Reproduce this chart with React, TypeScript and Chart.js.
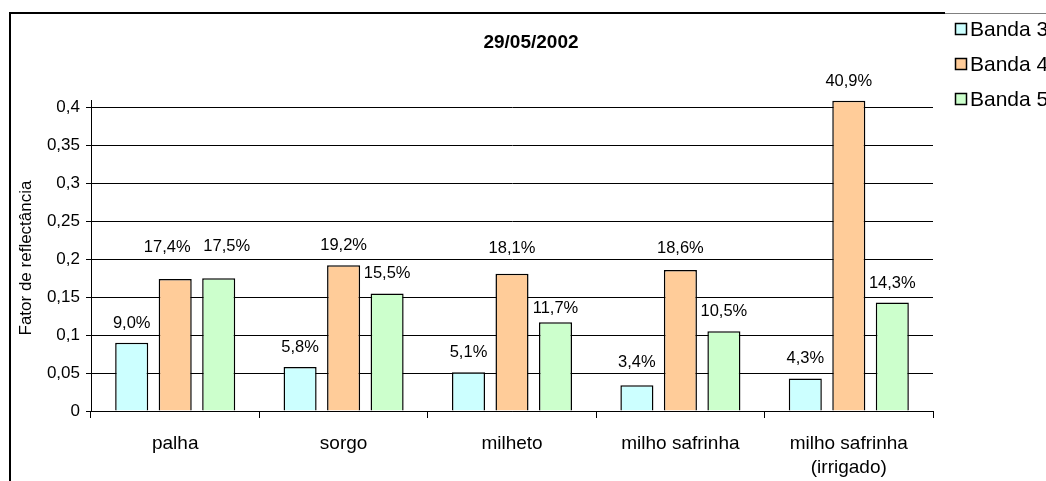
import { useEffect, useRef } from "react";
import { Chart, registerables } from "chart.js";

Chart.register(...registerables);

const categories: string[][] = [["palha"], ["sorgo"], ["milheto"], ["milho safrinha"], ["milho safrinha", "(irrigado)"]];
const seriesNames = ["Banda 3", "Banda 4", "Banda 5"];
const banda3 = [0.09, 0.058, 0.051, 0.034, 0.043];
const banda4 = [0.174, 0.192, 0.181, 0.186, 0.409];
const banda5 = [0.175, 0.155, 0.117, 0.105, 0.143];
const yTickValues = [0, 0.05, 0.1, 0.15, 0.2, 0.25, 0.3, 0.35, 0.4];
const yTickLabels = ["0", "0,05", "0,1", "0,15", "0,2", "0,25", "0,3", "0,35", "0,4"];
const chartTitle = "29/05/2002";
const yAxisTitle = "Fator de reflectância";
const seriesColors = ["#CCFFFF", "#FFCC99", "#CCFFCC"];

const FONT = "'Liberation Sans', Arial, sans-serif";

// label placement tweaks (dataset-index) -> [dx, dy], mimicking the original's hand-placed labels
const labelNudge: Record<string, [number, number]> = {
  "1-0": [-8, -12],
  "2-0": [8, -12],
  "1-2": [0, -6],
  "2-2": [0, 6],
  "0-3": [0, -3],
  "1-3": [0, -2],
};

const fmt = (v: number) => (v * 100).toFixed(1).replace(".", ",") + "%";

const decorPlugin = {
  id: "decor",
  afterDatasetsDraw(chart: any) {
    const ctx = chart.ctx;
    ctx.save();
    ctx.fillStyle = "#000";
    ctx.font = `16.5px ${FONT}`;
    ctx.textAlign = "center";
    ctx.textBaseline = "alphabetic";
    chart.data.datasets.forEach((ds: any, i: number) => {
      const meta = chart.getDatasetMeta(i);
      meta.data.forEach((el: any, j: number) => {
        const n = labelNudge[`${i}-${j}`] || [0, 0];
        ctx.fillText(fmt(ds.data[j]), el.x + n[0], el.y - 15 + n[1]);
      });
    });
    ctx.restore();
  },
  afterDraw(chart: any) {
    const ctx = chart.ctx;
    ctx.save();
    // frame
    ctx.strokeStyle = "#000";
    ctx.lineWidth = 2;
    ctx.beginPath();
    ctx.moveTo(10, 482);
    ctx.lineTo(10, 13);
    ctx.lineTo(945, 13);
    ctx.stroke();
    ctx.strokeStyle = "#808080";
    ctx.lineWidth = 1;
    ctx.beginPath();
    ctx.moveTo(945, 13.5);
    ctx.lineTo(1046, 13.5);
    ctx.stroke();
    // title
    ctx.fillStyle = "#000";
    ctx.font = `bold 19px ${FONT}`;
    ctx.textAlign = "center";
    ctx.textBaseline = "middle";
    ctx.fillText(chartTitle, 531, 43);
    // y title
    ctx.save();
    ctx.translate(26, 258);
    ctx.rotate(-Math.PI / 2);
    ctx.font = `17px ${FONT}`;
    ctx.fillText(yAxisTitle, 0, 0);
    ctx.restore();
    // legend
    ctx.font = `21px ${FONT}`;
    ctx.textAlign = "left";
    ctx.textBaseline = "middle";
    seriesNames.forEach((name, i) => {
      const cy = 29 + i * 35;
      ctx.fillStyle = seriesColors[i];
      ctx.fillRect(955.5, cy - 5.5, 11, 11);
      ctx.strokeStyle = "#000";
      ctx.lineWidth = 1.5;
      ctx.strokeRect(955.5, cy - 5.5, 11, 11);
      ctx.fillStyle = "#000";
      ctx.fillText(name, 970, cy + 1);
    });
    ctx.restore();
  },
};

export default function App() {
  const ref = useRef<HTMLCanvasElement>(null);
  useEffect(() => {
    if (!ref.current) return;
    const datasets = [banda3, banda4, banda5].map((d, i) => ({
      label: seriesNames[i],
      data: d,
      backgroundColor: seriesColors[i],
      borderColor: "#000",
      borderWidth: 1.5,
      categoryPercentage: 0.775,
      barPercentage: 0.76,
    }));
    const chart = new Chart(ref.current, {
      type: "bar",
      data: { labels: categories as any, datasets },
      options: {
        animation: false,
        responsive: false,
        layout: { padding: { top: 100, right: 113, left: 0, bottom: 0 } },
        plugins: { legend: { display: false }, title: { display: false }, tooltip: { enabled: false } },
        scales: {
          x: {
            afterFit: (s: any) => {
              s.height = 70;
            },
            grid: { display: true, drawOnChartArea: false, offset: true, tickLength: 7, color: "#000" },
            border: { color: "#000", width: 1 },
            ticks: { color: "#000", padding: 14, font: { family: FONT, size: 19, lineHeight: 24 / 19 } },
          },
          y: {
            min: 0,
            max: 0.41,
            afterFit: (s: any) => {
              s.width = 91;
            },
            afterBuildTicks: (s: any) => {
              s.ticks = yTickValues.map((v) => ({ value: v }));
            },
            grid: { color: "#000", tickLength: 5, lineWidth: 1 },
            border: { color: "#000", width: 1 },
            ticks: {
              color: "#000",
              padding: 6,
              font: { family: FONT, size: 17 },
              callback: (v: any) => {
                const idx = yTickValues.findIndex((t) => Math.abs(t - v) < 1e-9);
                return idx >= 0 ? yTickLabels[idx] : "";
              },
            },
          },
        },
      },
      plugins: [decorPlugin],
    });
    return () => chart.destroy();
  }, []);
  return (
    <div style={{ position: "fixed", left: 0, top: 0, width: 1046, height: 481, background: "#fff" }}>
      <canvas ref={ref} width={1046} height={481} style={{ width: 1046, height: 481, display: "block" }} />
    </div>
  );
}
